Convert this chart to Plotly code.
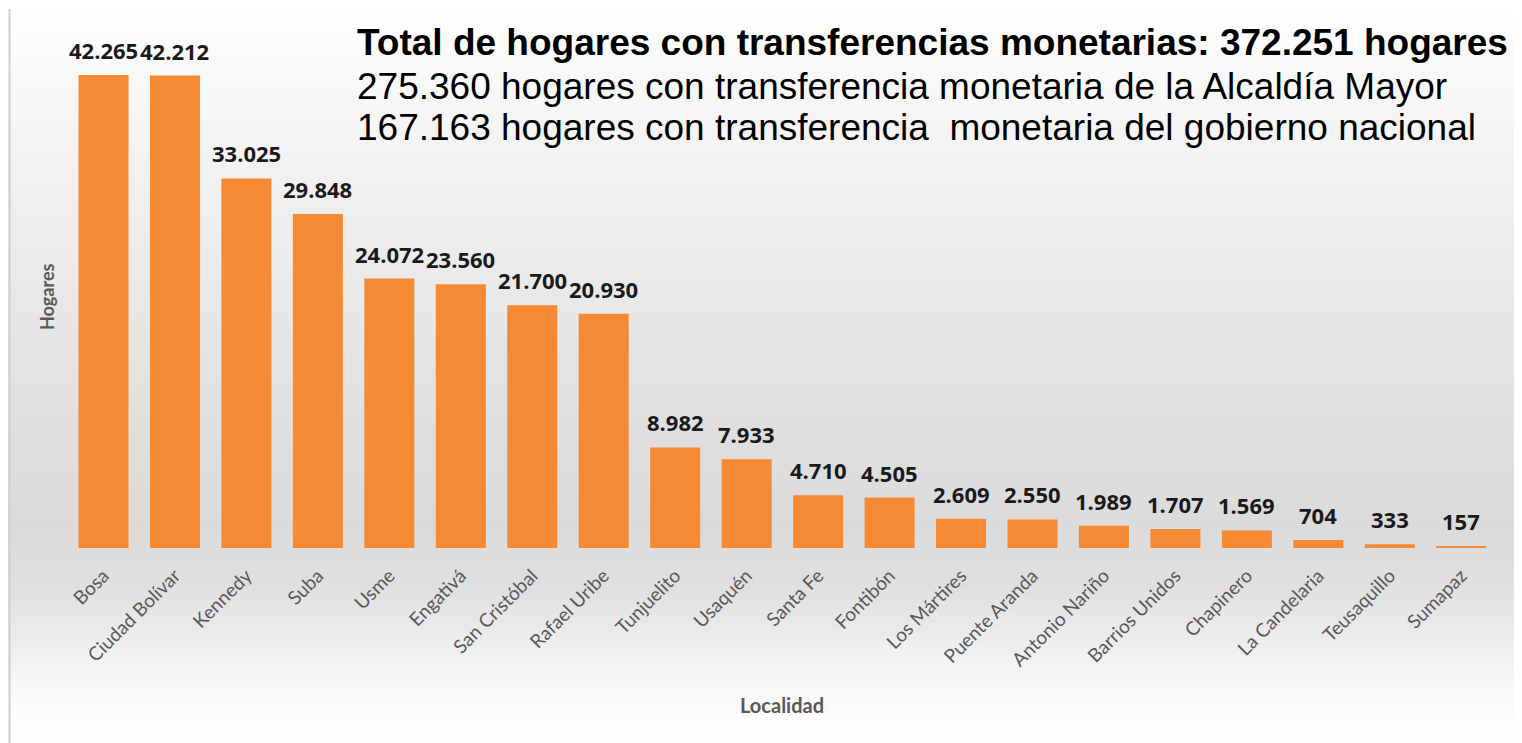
import base64
import plotly.graph_objects as go

# ---- data ----
localidades = ["Bosa", "Ciudad Bolívar", "Kennedy", "Suba", "Usme", "Engativá",
               "San Cristóbal", "Rafael Uribe", "Tunjuelito", "Usaquén", "Santa Fe",
               "Fontibón", "Los Mártires", "Puente Aranda", "Antonio Nariño",
               "Barrios Unidos", "Chapinero", "La Candelaria", "Teusaquillo", "Sumapaz"]
hogares = [42265, 42212, 33025, 29848, 24072, 23560, 21700, 20930, 8982, 7933,
           4710, 4505, 2609, 2550, 1989, 1707, 1569, 704, 333, 157]

titulo_1 = "Total de hogares con transferencias monetarias: 372.251 hogares"
titulo_2 = "275.360 hogares con transferencia monetaria de la Alcaldía Mayor"
titulo_3 = "167.163 hogares con transferencia  monetaria del gobierno nacional"

# ---- layout geometry (window pixels; page body adds an 8px offset) ----
OFF = 8
W, H = 1522, 743
PLOT_L, PLOT_R, PLOT_T, PLOT_B = 67, 1497, 40, 548   # target window coords
L = PLOT_L - OFF
T = PLOT_T - OFF
R = W - (PLOT_R - OFF)
B = H - (PLOT_B - OFF)
PW, PH = W - L - R, H - T - B


def py(ypx):
    return (PLOT_B - ypx) / PH


def px(xpx):
    return (xpx - PLOT_L) / PW


def fmt(v):
    return f"{v:,}".replace(",", ".")


svg = (
    f'<svg xmlns="http://www.w3.org/2000/svg" width="{W}" height="{H}" preserveAspectRatio="none">'
    '<defs><linearGradient id="g" x1="0" y1="0" x2="0" y2="1">'
    '<stop offset="0" stop-color="#FFFFFF"/>'
    '<stop offset="0.08" stop-color="#F9F9F9"/>'
    '<stop offset="0.30" stop-color="#EDEDED"/>'
    '<stop offset="0.55" stop-color="#E0E0E0"/>'
    '<stop offset="0.70" stop-color="#DBDBDB"/>'
    '<stop offset="0.78" stop-color="#E0E0E0"/>'
    '<stop offset="0.88" stop-color="#F2F2F2"/>'
    '<stop offset="0.95" stop-color="#FCFCFC"/>'
    '<stop offset="1" stop-color="#FFFFFF"/>'
    '</linearGradient></defs>'
    f'<rect width="{W}" height="{H}" fill="url(#g)"/></svg>'
)
bg_src = "data:image/svg+xml;base64," + base64.b64encode(svg.encode()).decode()

fig = go.Figure(go.Bar(
    x=localidades, y=hogares,
    marker=dict(color="#F68A34", line=dict(width=0)),
    hoverinfo="x+y",
))

annotations = []
for loc, v in zip(localidades, hogares):
    annotations.append(dict(
        x=loc, y=v, xref="x", yref="y", text=fmt(v), showarrow=False,
        yanchor="bottom", yshift=8,
        font=dict(family="Open Sans", size=22, color="#1A1A1A", weight="bold"),
    ))

for txt, ypx, bold in [(titulo_1, 42, True), (titulo_2, 87, False), (titulo_3, 127, False)]:
    annotations.append(dict(
        x=px(355), y=py(ypx), xref="paper", yref="paper", text=txt,
        showarrow=False, xanchor="left", yanchor="middle",
        font=dict(family="Liberation Sans", size=37, color="#000000",
                  weight="bold" if bold else "normal"),
    ))

annotations.append(dict(
    x=0.5, y=py(705), xref="paper", yref="paper", text="Localidad",
    showarrow=False, xanchor="center", yanchor="middle",
    font=dict(family="Lato", size=20, color="#595959", weight="bold"),
))
annotations.append(dict(
    x=px(47), y=py(297), xref="paper", yref="paper", text="Hogares",
    showarrow=False, xanchor="center", yanchor="middle", textangle=-90,
    font=dict(family="Lato", size=18, color="#595959", weight="bold"),
))

fig.update_layout(
    width=W, height=H,
    margin=dict(l=L, r=R, t=T, b=B, autoexpand=False),
    paper_bgcolor="#FFFFFF",
    plot_bgcolor="rgba(0,0,0,0)",
    bargap=0.3,
    showlegend=False,
    separators=",.",
    annotations=annotations,
    images=[dict(source=bg_src, xref="paper", yref="paper",
                 x=px(OFF), y=py(OFF), sizex=W / PW, sizey=H / PH,
                 xanchor="left", yanchor="top", sizing="stretch", layer="below")],
    shapes=[dict(type="line", xref="paper", yref="paper",
                 x0=px(9.5), x1=px(9.5), y0=py(760), y1=py(9),
                 line=dict(color="#CFCFCF", width=2))],
    xaxis=dict(
        automargin=False,
        showgrid=False, zeroline=False, showline=False, ticks="",
        tickangle=-45, ticklabelstandoff=12,
        tickfont=dict(family="Lato", size=19, color="#595959"),
    ),
    yaxis=dict(automargin=False, range=[0, 42265 * PH / 473], showgrid=False,
               zeroline=False, showline=False, showticklabels=False, ticks=""),
)

fig.write_html("out.html")
